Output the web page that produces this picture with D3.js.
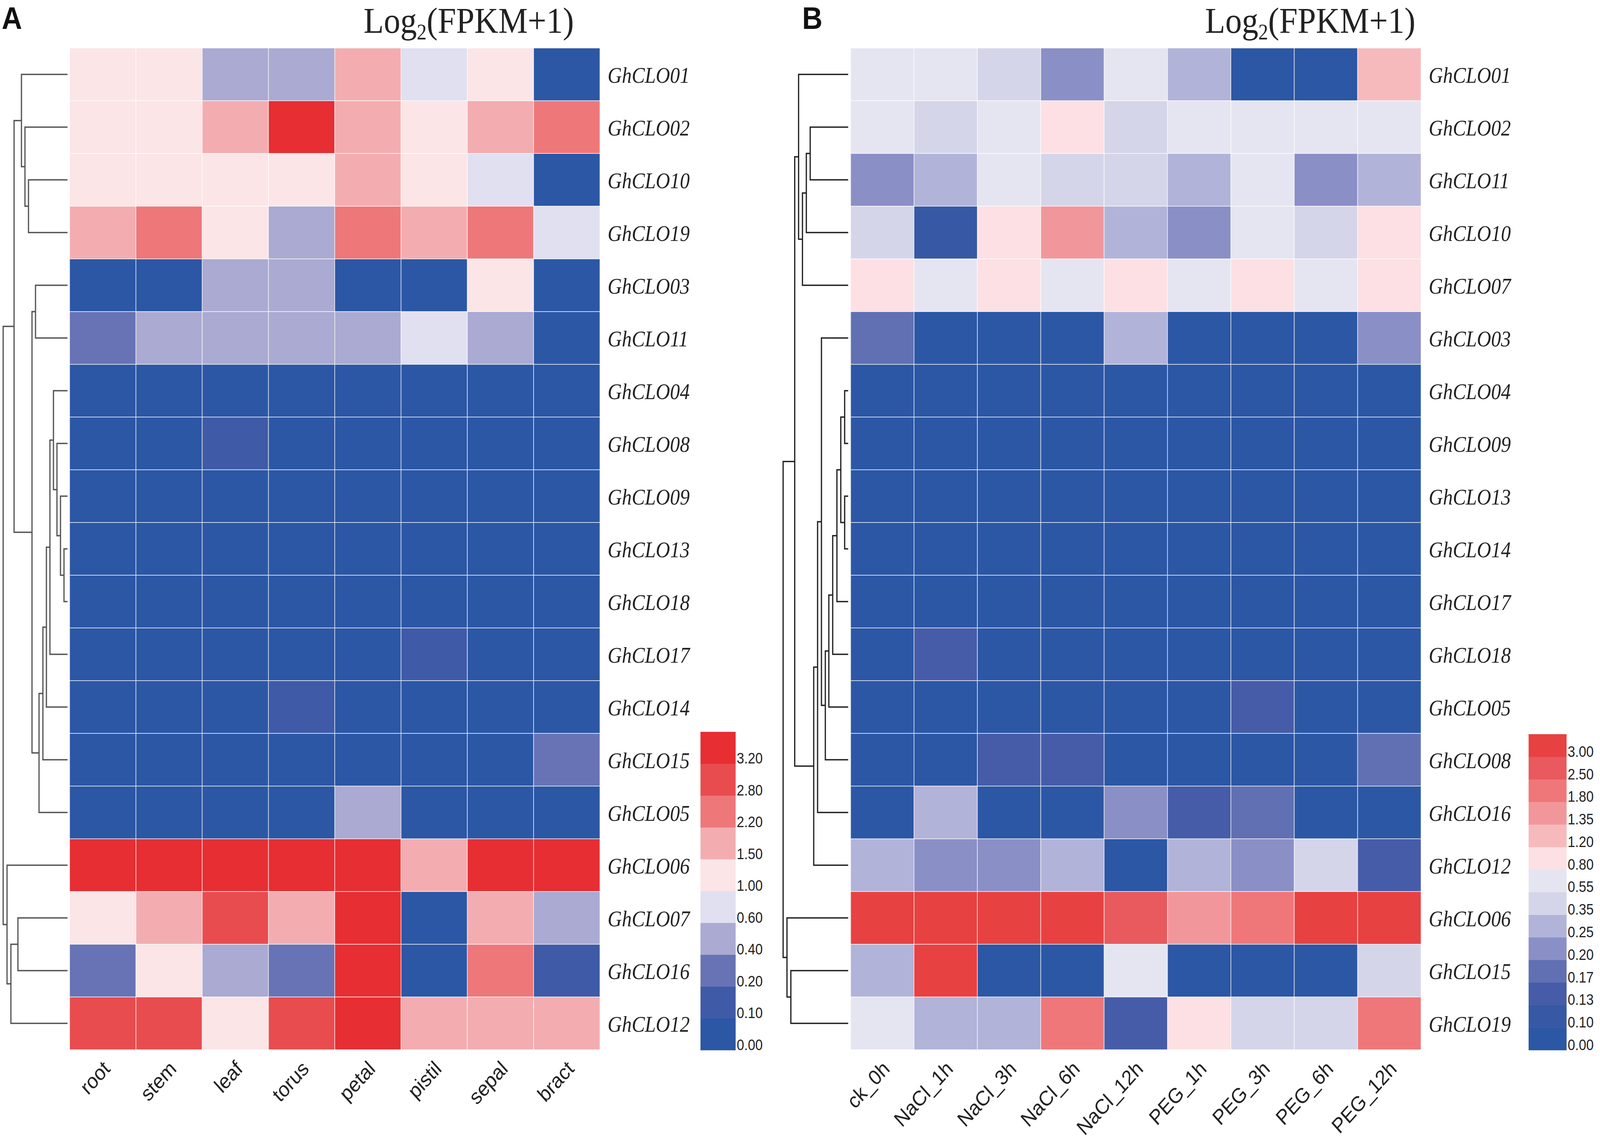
<!DOCTYPE html>
<html>
<head>
<meta charset="utf-8">
<script src="https://cdn.jsdelivr.net/npm/d3@7"></script>
<style>
  html, body { margin: 0; padding: 0; width: 100%; height: 100%; overflow: hidden; background: #fff; }
  #chart { width: 100%; height: 100%; }
  #chart svg { display: block; }
</style>
</head>
<body>
<div id="chart"></div>
<script>
// ---- Panel A: tissues ----
const tissues = ['root', 'stem', 'leaf', 'torus', 'petal', 'pistil', 'sepal', 'bract'];
const genesA = ['GhCLO01', 'GhCLO02', 'GhCLO10', 'GhCLO19', 'GhCLO03', 'GhCLO11', 'GhCLO04',
  'GhCLO08', 'GhCLO09', 'GhCLO13', 'GhCLO18', 'GhCLO17', 'GhCLO14', 'GhCLO15', 'GhCLO05',
  'GhCLO06', 'GhCLO07', 'GhCLO16', 'GhCLO12'];
const valuesA = [
  [1.21, 1.18, 0.48, 0.47, 1.83, 0.76, 1.24, 0.03],
  [1.16, 1.22, 1.79, 3.45, 1.86, 1.19, 1.77, 2.52],
  [1.24, 1.20, 1.13, 1.15, 1.88, 1.17, 0.82, 0.02],
  [1.81, 2.47, 1.12, 0.45, 2.55, 1.84, 2.49, 0.78],
  [0.04, 0.05, 0.51, 0.46, 0.03, 0.02, 1.11, 0.04],
  [0.28, 0.52, 0.49, 0.47, 0.53, 0.84, 0.50, 0.05],
  [0.02, 0.03, 0.01, 0.04, 0.02, 0.01, 0.03, 0.02],
  [0.03, 0.02, 0.14, 0.03, 0.01, 0.02, 0.04, 0.03],
  [0.01, 0.02, 0.03, 0.01, 0.02, 0.03, 0.01, 0.02],
  [0.02, 0.01, 0.02, 0.03, 0.01, 0.02, 0.02, 0.01],
  [0.03, 0.02, 0.01, 0.02, 0.03, 0.01, 0.02, 0.04],
  [0.02, 0.03, 0.02, 0.01, 0.02, 0.15, 0.03, 0.02],
  [0.01, 0.02, 0.03, 0.16, 0.01, 0.02, 0.01, 0.03],
  [0.04, 0.02, 0.01, 0.03, 0.02, 0.01, 0.03, 0.31],
  [0.02, 0.03, 0.02, 0.01, 0.48, 0.02, 0.01, 0.02],
  [3.41, 3.38, 3.44, 3.36, 3.52, 1.79, 3.40, 3.43],
  [1.14, 1.82, 3.05, 1.76, 3.58, 0.04, 1.81, 0.52],
  [0.27, 1.12, 0.46, 0.29, 3.61, 0.03, 2.44, 0.16],
  [2.96, 3.01, 1.15, 2.98, 3.66, 1.87, 1.84, 1.86]
];
const breaksA = [0.00, 0.10, 0.20, 0.40, 0.60, 1.00, 1.50, 2.20, 2.80, 3.20];
const colorsA = ['#2b57a5', '#3f5aa6', '#6873b5', '#aaaad2', '#e0e0f0',
  '#fbe5e7', '#f3adb0', '#ee777a', '#e84c4e', '#e62e33'];
// merges: [left, right, height]; numbers refer to earlier merges
const mergesA = [
  ['GhCLO13', 'GhCLO18', 10],
  ['GhCLO09', 0, 20],
  ['GhCLO08', 1, 30],
  ['GhCLO04', 2, 40],
  [3, 'GhCLO17', 50],
  [4, 'GhCLO14', 60],
  [5, 'GhCLO15', 70],
  [6, 'GhCLO05', 81],
  ['GhCLO03', 'GhCLO11', 91],
  [8, 7, 101],
  ['GhCLO10', 'GhCLO19', 111],
  ['GhCLO02', 10, 121],
  ['GhCLO01', 11, 131],
  ['GhCLO07', 'GhCLO16', 141],
  [12, 9, 152],
  [13, 'GhCLO12', 161],
  ['GhCLO06', 15, 172],
  [14, 16, 183]
];

// ---- Panel B: stress treatments ----
const treatments = ['ck_0h', 'NaCl_1h', 'NaCl_3h', 'NaCl_6h', 'NaCl_12h', 'PEG_1h', 'PEG_3h', 'PEG_6h', 'PEG_12h'];
const genesB = ['GhCLO01', 'GhCLO02', 'GhCLO11', 'GhCLO10', 'GhCLO07', 'GhCLO03', 'GhCLO04',
  'GhCLO09', 'GhCLO13', 'GhCLO14', 'GhCLO17', 'GhCLO18', 'GhCLO05', 'GhCLO08', 'GhCLO16',
  'GhCLO12', 'GhCLO06', 'GhCLO15', 'GhCLO19'];
const valuesB = [
  [0.64, 0.68, 0.44, 0.22, 0.66, 0.31, 0.04, 0.05, 1.26],
  [0.66, 0.45, 0.63, 0.97, 0.42, 0.67, 0.62, 0.65, 0.64],
  [0.22, 0.29, 0.65, 0.46, 0.43, 0.30, 0.61, 0.21, 0.31],
  [0.44, 0.11, 1.02, 1.52, 0.29, 0.23, 0.66, 0.42, 1.05],
  [0.98, 0.63, 1.01, 0.67, 0.95, 0.64, 0.99, 0.68, 1.03],
  [0.18, 0.04, 0.03, 0.05, 0.31, 0.02, 0.04, 0.03, 0.22],
  [0.02, 0.03, 0.01, 0.04, 0.02, 0.03, 0.01, 0.02, 0.03],
  [0.03, 0.02, 0.04, 0.01, 0.03, 0.02, 0.03, 0.01, 0.02],
  [0.01, 0.03, 0.02, 0.03, 0.01, 0.04, 0.02, 0.03, 0.01],
  [0.02, 0.01, 0.03, 0.02, 0.04, 0.01, 0.03, 0.02, 0.04],
  [0.04, 0.02, 0.01, 0.03, 0.02, 0.03, 0.02, 0.04, 0.02],
  [0.03, 0.15, 0.02, 0.01, 0.03, 0.02, 0.04, 0.03, 0.01],
  [0.02, 0.03, 0.04, 0.02, 0.01, 0.03, 0.15, 0.02, 0.03],
  [0.04, 0.02, 0.15, 0.14, 0.03, 0.02, 0.04, 0.03, 0.18],
  [0.03, 0.30, 0.02, 0.04, 0.22, 0.15, 0.18, 0.03, 0.02],
  [0.29, 0.21, 0.23, 0.31, 0.04, 0.28, 0.22, 0.46, 0.14],
  [3.22, 3.18, 3.25, 3.21, 2.74, 1.52, 2.06, 3.24, 3.19],
  [0.30, 3.15, 0.03, 0.02, 0.63, 0.04, 0.02, 0.03, 0.44],
  [0.62, 0.29, 0.31, 2.12, 0.14, 1.03, 0.43, 0.45, 2.08]
];
const breaksB = [0.00, 0.10, 0.13, 0.17, 0.20, 0.25, 0.35, 0.55, 0.80, 1.20, 1.35, 1.80, 2.50, 3.00];
const colorsB = ['#2b57a5', '#3658a5', '#465ca8', '#6170b3', '#8a8fc6', '#b2b3d9', '#d5d5ea',
  '#e5e5f2', '#fce0e3', '#f6babd', '#f1979b', '#ef7779', '#e85a5e', '#e84142'];
const mergesB = [
  ['GhCLO04', 'GhCLO09', 10],
  ['GhCLO13', 'GhCLO14', 10],
  [0, 1, 21],
  [2, 'GhCLO17', 32],
  [3, 'GhCLO18', 44],
  [4, 'GhCLO05', 55],
  [5, 'GhCLO08', 65],
  ['GhCLO03', 6, 76],
  [7, 'GhCLO16', 87],
  [8, 'GhCLO12', 98],
  ['GhCLO02', 'GhCLO11', 108],
  [10, 'GhCLO10', 119],
  [11, 'GhCLO07', 130],
  ['GhCLO01', 12, 141],
  [13, 9, 152],
  ['GhCLO15', 'GhCLO19', 163],
  ['GhCLO06', 15, 174],
  [14, 16, 185]
];

const width = 4550;
const height = 2932;
const serif = "'Liberation Serif', 'Times New Roman', serif";
const sans = "'Liberation Sans', Arial, sans-serif";

// Stretch the figure over the whole viewport so it lines up with the 4550x2932 frame
const svg = d3.select('#chart')
  .append('svg')
  .attr('viewBox', `0 0 ${width} ${height}`)
  .attr('preserveAspectRatio', 'none')
  .attr('width', '100%')
  .attr('height', '100%')
  .style('background', '#fff');

function drawPanel(p) {
  const g = svg.append('g');
  const top = 123, bottom = 2688;

  const x = d3.scaleBand().domain(p.cols).range([p.left, p.right]);
  const y = d3.scaleBand().domain(p.genes).range([top, bottom]);
  const color = d3.scaleThreshold().domain(p.breaks.slice(1)).range(p.colors);

  // Heatmap cells
  const cells = [];
  p.genes.forEach((gene, i) => p.cols.forEach((c, j) => cells.push({ gene, col: c, v: p.values[i][j] })));
  g.append('g').selectAll('rect')
    .data(cells)
    .join('rect')
    .attr('x', d => x(d.col))
    .attr('y', d => y(d.gene))
    .attr('width', x.bandwidth())
    .attr('height', y.bandwidth())
    .attr('fill', d => color(d.v))
    .attr('stroke', '#fff')
    .attr('stroke-opacity', 0.65)
    .attr('stroke-width', 2);

  // Row labels
  g.append('g').selectAll('text')
    .data(p.genes)
    .join('text')
    .attr('x', p.right + 22)
    .attr('y', d => y(d) + y.bandwidth() / 2 + 22)
    .attr('font-family', serif)
    .attr('font-style', 'italic')
    .attr('font-size', 56)
    .attr('fill', '#222')
    .text(d => d);

  // Column labels (rotated)
  g.append('g').selectAll('text')
    .data(p.cols)
    .join('text')
    .attr('transform', d => `translate(${x(d) + x.bandwidth() / 2 + 24},${bottom + 52}) rotate(-45)`)
    .attr('text-anchor', 'end')
    .attr('font-family', sans)
    .attr('font-size', 54)
    .attr('fill', '#222')
    .text(d => d);

  // Dendrogram
  const hx = d3.scaleLinear().domain([0, p.maxH]).range([p.leafX, p.rootX]);
  const nodeY = c => typeof c === 'string'
    ? y(c) + y.bandwidth() / 2
    : (nodeY(p.merges[c][0]) + nodeY(p.merges[c][1])) / 2;
  const nodeH = c => typeof c === 'string' ? 0 : p.merges[c][2];

  g.append('g').selectAll('path')
    .data(p.merges)
    .join('path')
    .attr('fill', 'none')
    .attr('stroke', p.treeColor)
    .attr('stroke-width', 3.5)
    .attr('d', ([a, b, h]) =>
      `M${hx(nodeH(a))},${nodeY(a)}H${hx(h)}V${nodeY(b)}H${hx(nodeH(b))}`);

  // Title
  const title = g.append('text')
    .attr('x', p.titleX)
    .attr('y', 84)
    .attr('font-family', serif)
    .attr('font-size', 94)
    .attr('fill', '#222');
  title.append('tspan').text('Log');
  title.append('tspan').attr('font-size', 56).attr('dy', 17).text('2');
  title.append('tspan').attr('dy', -17).text('(FPKM+1)');

  // Panel letter
  g.append('text')
    .attr('x', p.letterX)
    .attr('y', 74)
    .attr('font-family', sans)
    .attr('font-weight', 'bold')
    .attr('font-size', 80)
    .attr('fill', '#111')
    .text(p.letter);

  // Legend
  const ly = d3.scaleBand()
    .domain(d3.range(p.breaks.length).reverse())
    .range([p.legTop, bottom + 1]);
  const leg = g.append('g');
  leg.selectAll('rect')
    .data(p.breaks)
    .join('rect')
    .attr('x', p.legX)
    .attr('y', (d, i) => ly(i))
    .attr('width', p.legW)
    .attr('height', ly.bandwidth() + 0.5)
    .attr('fill', (d, i) => p.colors[i]);
  leg.selectAll('text')
    .data(p.breaks)
    .join('text')
    .attr('x', p.legX + p.legW + 3)
    .attr('y', (d, i) => ly(i) + ly.bandwidth())
    .attr('font-family', sans)
    .attr('font-size', 38)
    .attr('fill', '#222')
    .text(d => d3.format('.2f')(d));
}

drawPanel({
  letter: 'A', letterX: 5, titleX: 1034,
  cols: tissues, genes: genesA, values: valuesA,
  breaks: breaksA, colors: colorsA, merges: mergesA,
  left: 198, right: 1706,
  leafX: 192, rootX: 9, maxH: 183, treeColor: '#555',
  legX: 1992, legW: 100, legTop: 1874
});

drawPanel({
  letter: 'B', letterX: 2281, titleX: 3427,
  cols: treatments, genes: genesB, values: valuesB,
  breaks: breaksB, colors: colorsB, merges: mergesB,
  left: 2419, right: 4041,
  leafX: 2412, rootX: 2227, maxH: 185, treeColor: '#222',
  legX: 4347, legW: 108, legTop: 1880
});
</script>
</body>
</html>
